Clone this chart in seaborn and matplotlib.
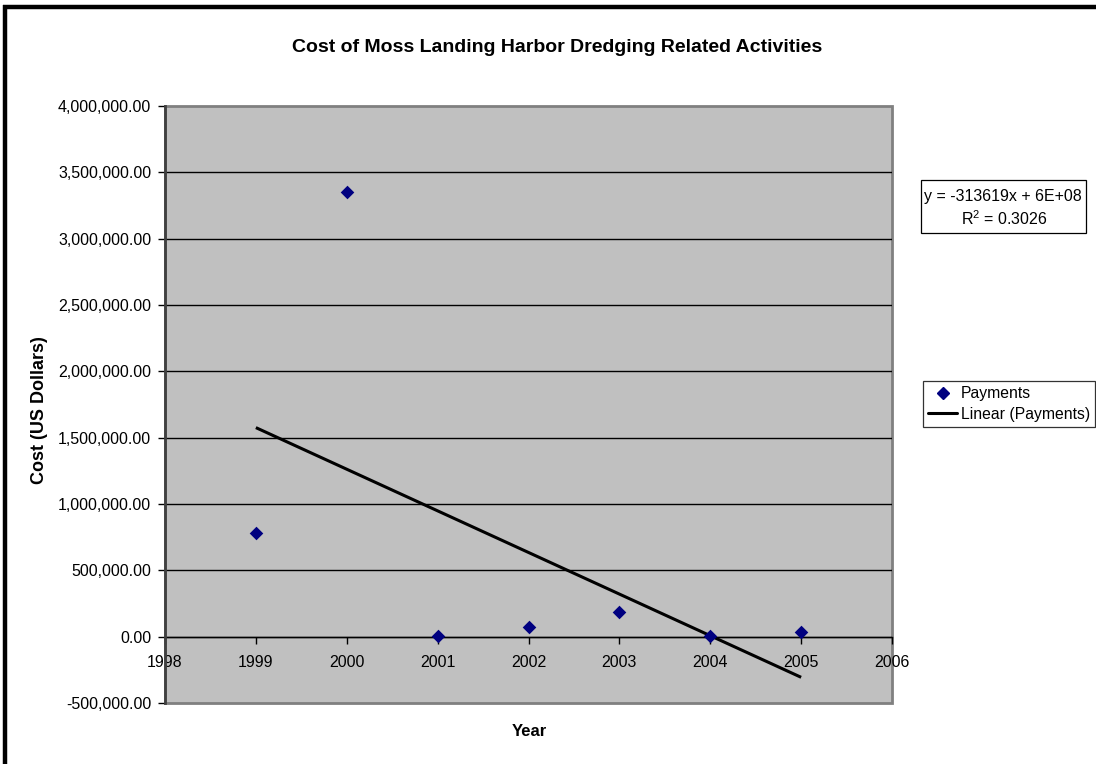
import numpy as np
import pandas as pd
import matplotlib
matplotlib.use("Agg")
import matplotlib.pyplot as plt
from matplotlib.lines import Line2D
from matplotlib.patches import Rectangle
from matplotlib.ticker import FuncFormatter
import seaborn as sns

# ---- data ----
years = [1999, 2000, 2001, 2002, 2003, 2004, 2005]
payments = [785000, 3355000, 8000, 72000, 188000, 3000, 32000]
y_ticks = [-500000, 0, 500000, 1000000, 1500000, 2000000, 2500000, 3000000, 3500000, 4000000]
x_ticks = [1998, 1999, 2000, 2001, 2002, 2003, 2004, 2005, 2006]
title = "Cost of Moss Landing Harbor Dredging Related Activities"
x_label = "Year"
y_label = "Cost (US Dollars)"
series_name = "Payments"
trend_name = "Linear (Payments)"
equation_line1 = "y = -313619x + 6E+08"
equation_line2 = "R$^2$ = 0.3026"

df = pd.DataFrame({"Year": years, "Payments": payments})

sns.set_theme(style="white")
plt.rcParams["font.family"] = ["Liberation Sans", "DejaVu Sans"]
plt.rcParams["text.color"] = "black"
plt.rcParams["mathtext.fontset"] = "custom"
plt.rcParams["mathtext.rm"] = "Liberation Sans"

W, H = 1096, 764
fig = plt.figure(figsize=(W / 100, H / 100), dpi=100)
ax = fig.add_axes([165 / W, 1 - 703 / H, (892 - 165) / W, (703 - 106) / H])

ax.set_facecolor("#c0c0c0")
ax.patch.set_edgecolor("#808080")
ax.patch.set_linewidth(2)

# gridlines
for yv in y_ticks[1:-1]:
    ax.axhline(yv, color="black", lw=1, zorder=1)

# trend line via seaborn regression
sns.regplot(data=df, x="Year", y="Payments", scatter=False, ci=None, truncate=True,
            color="black", line_kws={"lw": 2.2, "zorder": 4, "solid_capstyle": "butt"}, ax=ax)

sns.scatterplot(data=df, x="Year", y="Payments", marker="D", s=48, color="#000080",
                edgecolor="#000080", linewidth=0, zorder=5, ax=ax)

ax.set_xlim(1998, 2006)
ax.set_ylim(-500000, 4000000)
ax.set_yticks(y_ticks)
ax.set_xticks(x_ticks)
ax.yaxis.set_major_formatter(FuncFormatter(lambda v, p: f"{v:,.2f}"))
ax.xaxis.set_major_formatter(FuncFormatter(lambda v, p: f"{int(round(v))}"))

for s in ["top", "right"]:
    ax.spines[s].set_visible(False)
ax.spines["left"].set_color("#404040")
ax.spines["left"].set_linewidth(2)
ax.spines["bottom"].set_position(("data", 0))
ax.spines["bottom"].set_color("black")
ax.spines["bottom"].set_linewidth(1)
ax.spines["bottom"].set_zorder(2)

ax.tick_params(axis="y", which="major", direction="out", length=5, width=1, color="black",
               labelsize=11.5, pad=5, left=True, labelcolor="black")
ax.tick_params(axis="x", which="major", direction="out", length=5, width=1, color="black",
               labelsize=11.5, pad=8, bottom=True, labelcolor="black")

ax.set_xlabel("")
ax.set_ylabel("")

fig.text(557 / W, 1 - 48 / H, title, ha="center", va="center", fontsize=14,
         fontweight="bold", color="black")
fig.text(40 / W, 1 - 410 / H, y_label, ha="center", va="center", rotation=90,
         fontsize=13, fontweight="bold", color="black")
fig.text(529 / W, 1 - 731 / H, x_label, ha="center", va="center", fontsize=12,
         fontweight="bold", color="black")

# equation box
fig.add_artist(Rectangle((921 / W, 1 - 233 / H), (1086 - 921) / W, (233 - 180) / H,
                         transform=fig.transFigure, facecolor="white", edgecolor="black", lw=0.9))
fig.text(1003 / W, 1 - 196 / H, equation_line1, ha="center", va="center", fontsize=11.5,
         color="black")
fig.text(1004 / W, 1 - 219 / H, equation_line2, ha="center", va="center", fontsize=11.5,
         color="black")

# legend
handles = [
    Line2D([], [], marker="D", color="none", markerfacecolor="#000080", markeredgecolor="#000080",
           markersize=6, label=series_name),
    Line2D([], [], color="black", lw=2.2, label=trend_name),
]
leg = fig.legend(handles=handles, loc="upper left", bbox_to_anchor=(923 / W, 1 - 381 / H),
                 frameon=True, fancybox=False, fontsize=11.3, handlelength=1.85,
                 handletextpad=0.25, borderpad=0.32, labelspacing=0.38, borderaxespad=0)
leg.get_frame().set_edgecolor("black")
leg.get_frame().set_linewidth(0.9)

# outer chart border (clipped at right/bottom as in the reference)
fig.add_artist(Line2D([5 / W, 5 / W], [0, 1 - 5 / H], transform=fig.transFigure,
                      color="black", lw=3.2, solid_capstyle="butt"))
fig.add_artist(Line2D([3 / W, 1], [1 - 7 / H, 1 - 7 / H], transform=fig.transFigure,
                      color="black", lw=3.2, solid_capstyle="butt"))

fig.savefig("out.png", dpi=100, facecolor="white")
